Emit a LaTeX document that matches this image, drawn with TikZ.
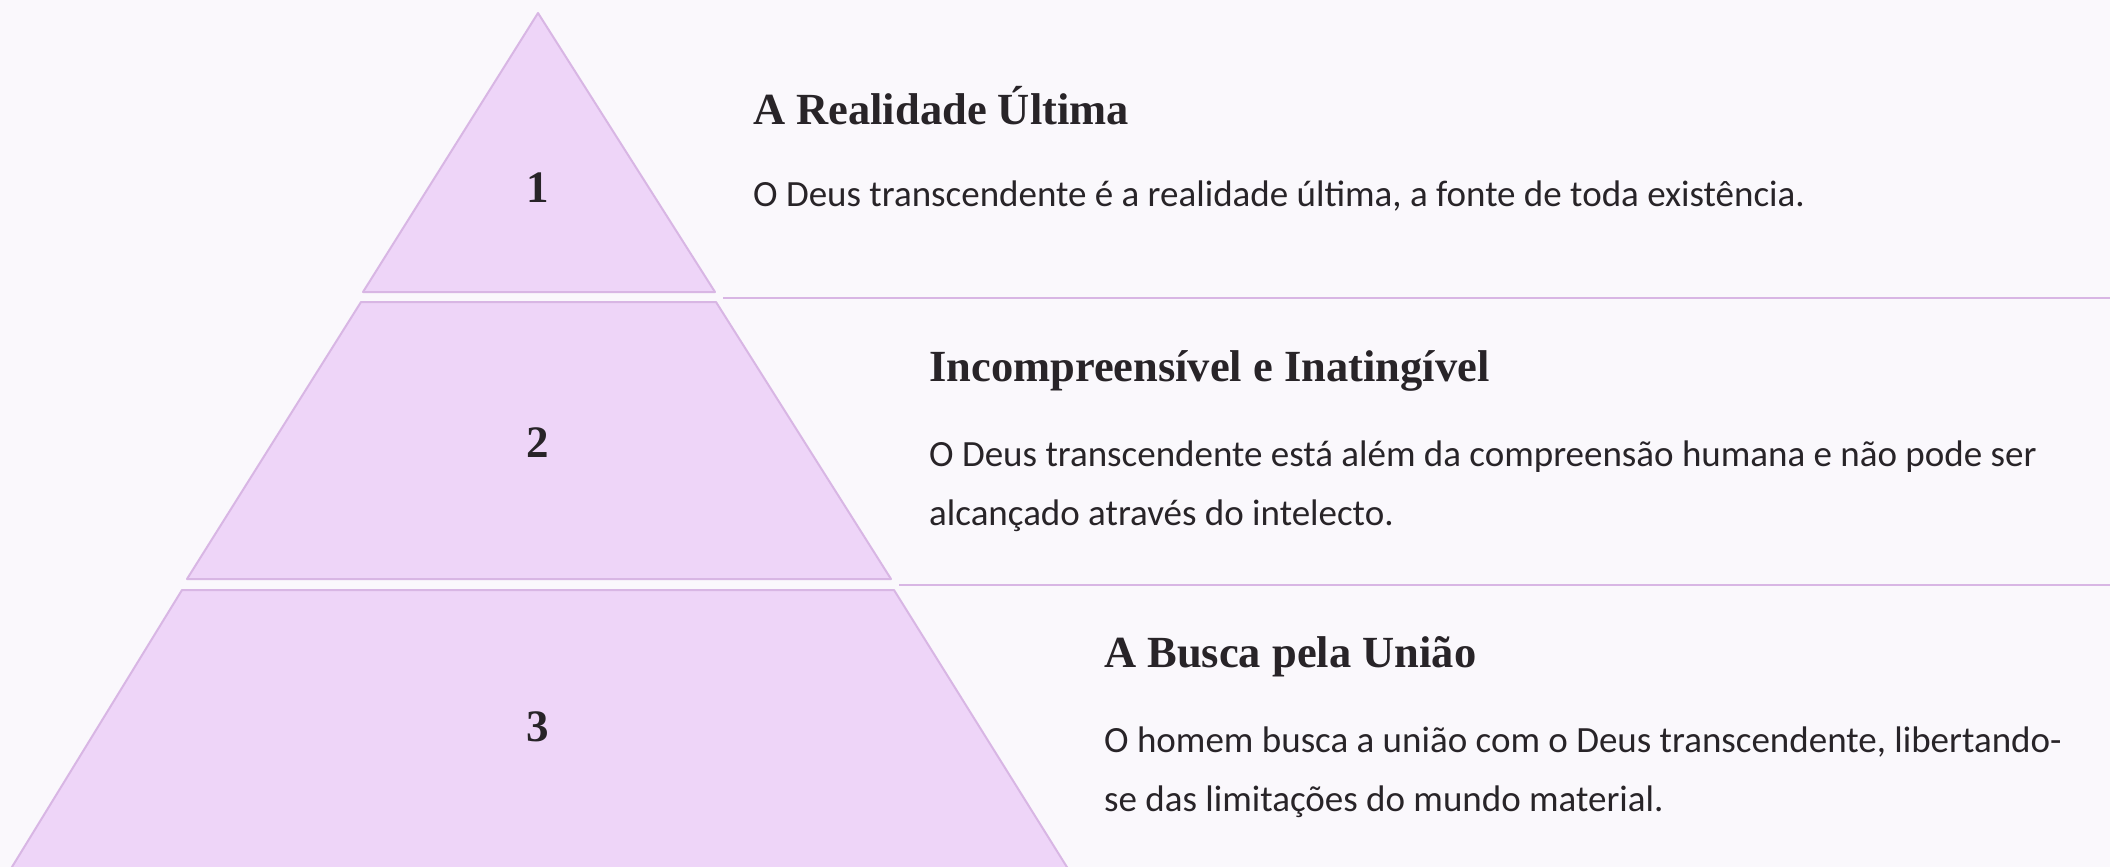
\documentclass[tikz,border=0pt]{standalone}
\usepackage{fontspec}
\setmainfont{Carlito}
\newfontfamily\headfont{Liberation Serif}
\usetikzlibrary{positioning}

\definecolor{pagebg}{RGB}{250,248,252}
\definecolor{tierfill}{RGB}{238,213,248}
\definecolor{tierline}{RGB}{216,182,228}
\definecolor{inkdark}{RGB}{40,36,40}

\begin{document}
\begin{tikzpicture}[
        x=1pt, y=-1pt,
        tier/.style={
            fill=tierfill,
            draw=tierline,
            line width=2pt,
            line join=round
        },
        tiernum/.style={
            font=\headfont\bfseries\fontsize{45}{45}\selectfont,
            text=inkdark
        },
        headline/.style={
            anchor=base west, inner sep=0pt,
            font=\headfont\bfseries\fontsize{44.5}{44.5}\selectfont,
            text=inkdark
        },
        bodytext/.style={
            anchor=base west, inner sep=0pt, align=left,
            font=\fontsize{37}{59}\selectfont,
            text=inkdark
        },
        sepline/.style={draw=tierline, line width=2pt}
    ]
    \clip (0,0) rectangle (2110,867);
    \fill[pagebg] (0,0) rectangle (2110,867);

    % pyramid
    \draw[tier] (538,13) -- (715,292) -- (363,292) -- cycle;
    \draw[tier] (361,302) -- (716,302) -- (891,579) -- (187,579) -- cycle;
    \draw[tier] (182,590) -- (894,590) -- (1075,880) -- (4,880) -- cycle;

    \node[tiernum] (num1) at (538,188) {1};
    \node[tiernum] (num2) at (538,443) {2};
    \node[tiernum] (num3) at (538,727) {3};

    % separators
    \coordinate (sep1a) at (723,298);
    \coordinate (sep1b) at (2110,298);
    \coordinate (sep2a) at (899,585);
    \coordinate (sep2b) at (2110,585);
    \draw[sepline] (sep1a) -- (sep1b);
    \draw[sepline] (sep2a) -- (sep2b);

    % texts (base of a two-line node is its last line)
    \node[headline] (head1) at (753,124) {A Realidade Última};
    \node[bodytext] (body1) at (753,206)
        {O Deus transcendente é a realidade última, a fonte de toda existência.};

    \node[headline] (head2) at (929,381) {Incompreensível e Inatingível};
    \node[bodytext] (body2) at (929,525)
        {O Deus transcendente está além da compreensão humana e não pode ser\\
         alcançado através do intelecto.};

    \node[headline] (head3) at (1104,667) {A Busca pela União};
    \node[bodytext] (body3) at (1104,811)
        {O homem busca a união com o Deus transcendente, libertando-\\
         se das limitações do mundo material.};
\end{tikzpicture}
\end{document}
